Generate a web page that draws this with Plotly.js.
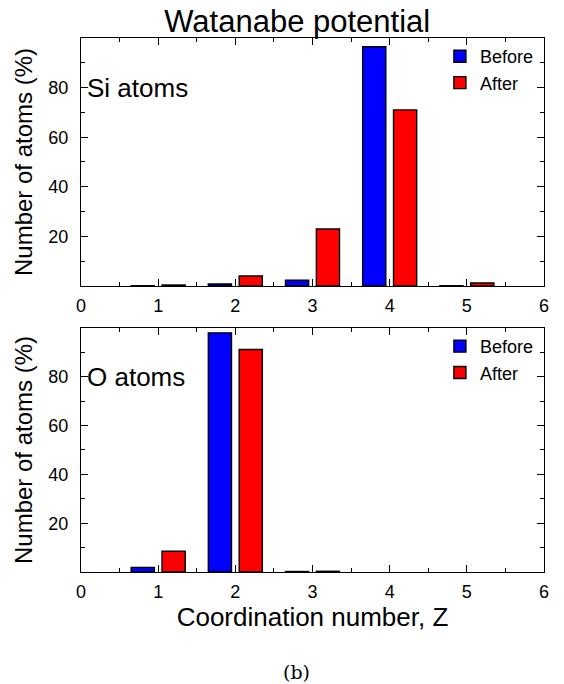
<!DOCTYPE html>
<html>
<head>
<meta charset="utf-8">
<script src="https://cdn.plot.ly/plotly-3.0.1.min.js"></script>
<style>
html,body{margin:0;padding:0;background:#fff;}
#chart{width:564px;height:684px;}
</style>
</head>
<body>
<div id="chart"></div>
<script>
var coordination = [1, 2, 3, 4, 5];
var siBefore = [0.1, 0.8, 2.3, 96.5, 0.1];
var siAfter  = [0.4, 4.0, 23.0, 71.0, 1.2];
var oBefore  = [1.9, 98.0, 0.2, null, null];
var oAfter   = [8.5, 91.2, 0.3, null, null];
var xTicks = [0, 1, 2, 3, 4, 5, 6];
var yTicks = [20, 40, 60, 80];

var FONT = 'Liberation Sans, Arial, Helvetica, sans-serif';
var barLine = {color: '#000', width: 1.4};

function bar(x, y, name, color, xa, ya, leg, offset) {
  return {
    type: 'bar', x: x, y: y, name: name,
    xaxis: xa, yaxis: ya, legend: leg,
    offset: offset, width: 0.3,
    marker: {color: color, line: barLine},
    hoverinfo: 'x+y'
  };
}

var data = [
  bar(coordination, siBefore, 'Before', '#0000ff', 'x2', 'y2', 'legend', -0.35),
  bar(coordination, siAfter,  'After',  '#ff0000', 'x2', 'y2', 'legend', 0.05),
  bar(coordination, oBefore,  'Before', '#0000ff', 'x',  'y',  'legend2', -0.35),
  bar(coordination, oAfter,   'After',  '#ff0000', 'x',  'y',  'legend2', 0.05)
];

function xAxis(anchor, withTitle) {
  var a = {
    anchor: anchor, range: [0, 6], tickvals: xTicks,
    ticks: 'inside', ticklen: 7, tickwidth: 1, tickcolor: '#000',
    minor: {dtick: 0.5, tick0: 0, ticks: 'inside', ticklen: 4, tickcolor: '#000'},
    mirror: 'allticks', showline: true, linecolor: '#000', linewidth: 1.2,
    showgrid: false, zeroline: false, ticklabelstandoff: 3,
    tickfont: {family: FONT, size: 18, color: '#000'}
  };
  if (withTitle) a.title = {text: 'Coordination number, Z', font: {family: FONT, size: 26, color: '#000'}, standoff: 2};
  return a;
}
function yAxis(anchor, domain) {
  return {
    anchor: anchor, domain: domain, range: [0, 100], tickvals: yTicks,
    ticks: 'inside', ticklen: 7, tickwidth: 1, tickcolor: '#000',
    minor: {dtick: 10, tick0: 0, ticks: 'inside', ticklen: 4, tickcolor: '#000'},
    mirror: 'allticks', showline: true, linecolor: '#000', linewidth: 1.2,
    showgrid: false, zeroline: false, ticklabelstandoff: 8,
    tickfont: {family: FONT, size: 18, color: '#000'},
    title: {text: 'Number of atoms (%)', font: {family: FONT, size: 24, color: '#000'}, standoff: 8}
  };
}

var legendCommon = {
  xref: 'paper', yref: 'paper', xanchor: 'right', yanchor: 'top',
  bgcolor: 'rgba(0,0,0,0)', borderwidth: 0,
  font: {family: FONT, size: 18, color: '#000'},
  tracegroupgap: 0, itemwidth: 30
};

var layout = {
  width: 564, height: 684,
  margin: {l: 81, r: 20, t: 38, b: 112},
  paper_bgcolor: '#fff', plot_bgcolor: '#fff',
  showlegend: true, barmode: 'overlay',
  title: {text: 'Watanabe potential', font: {family: FONT, size: 31, color: '#000'},
          x: 0.527, xanchor: 'center', y: 0.969, yanchor: 'middle'},
  xaxis: xAxis('y', true),
  yaxis: yAxis('x', [0, 0.457]),
  xaxis2: xAxis('y2', false),
  yaxis2: yAxis('x2', [0.5356, 1]),
  legend: Object.assign({x: 0.989, y: 1.0}, legendCommon),
  legend2: Object.assign({x: 0.989, y: 0.457}, legendCommon),
  annotations: [
    {text: 'Si atoms', xref: 'x2', yref: 'y2', x: 0.05, y: 80, xanchor: 'left', yanchor: 'middle',
     showarrow: false, font: {family: FONT, size: 26, color: '#000'}},
    {text: 'O atoms', xref: 'x', yref: 'y', x: 0.05, y: 80, xanchor: 'left', yanchor: 'middle',
     showarrow: false, font: {family: FONT, size: 26, color: '#000'}},
    {text: '(b)', xref: 'paper', yref: 'paper', x: 0.466, y: -0.188, xanchor: 'center', yanchor: 'middle',
     showarrow: false, font: {family: 'DejaVu Serif, Liberation Serif, serif', size: 19, color: '#000'}}
  ]
};

Plotly.newPlot('chart', data, layout, {displayModeBar: false, staticPlot: true});
</script>
</body>
</html>
